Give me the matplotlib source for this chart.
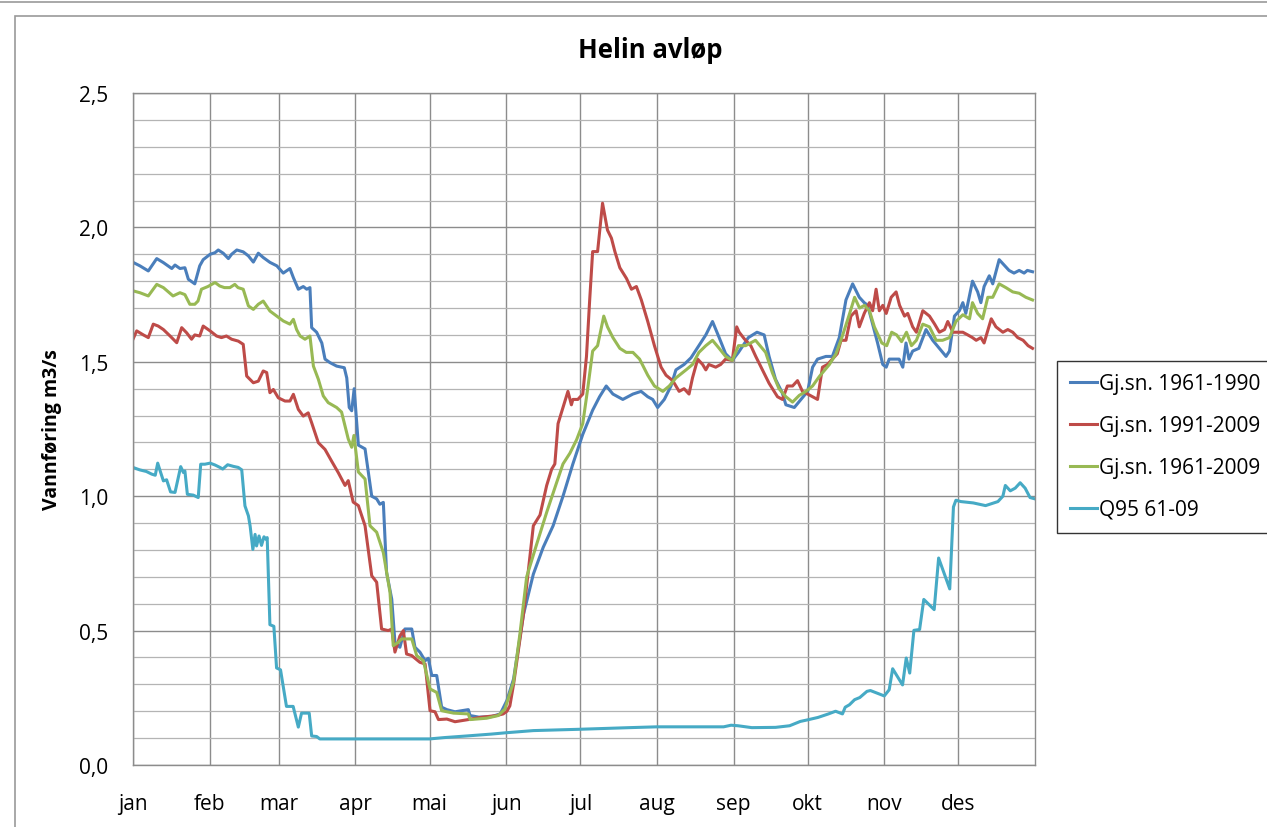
import matplotlib
matplotlib.use("Agg")
import matplotlib.pyplot as plt
from matplotlib.lines import Line2D
from matplotlib.patches import Rectangle

plt.rcParams["font.family"] = ["Open Sans", "DejaVu Sans"]

# month starts (day of year) and labels
month_days = [0, 31, 59, 90, 120, 151, 181, 212, 243, 273, 304, 334]
month_labels = ["jan", "feb", "mar", "apr", "mai", "jun", "jul", "aug", "sep", "okt", "nov", "des"]
y_ticks = [0.0, 0.5, 1.0, 1.5, 2.0, 2.5]
y_labels = ["0,0", "0,5", "1,0", "1,5", "2,0", "2,5"]

# Gj.sn. 1961-1990
days_6190 = [0, 2.8, 6.2, 9.6, 12.3, 15.7, 17, 19, 21, 22.4, 25, 27, 28.4, 31.2, 33.2, 34.5, 36.5,
             38.6, 39.9, 42, 44.6, 46.7, 48.7, 50.7, 52.7, 55.4, 58.2, 60.8, 63.5, 64.9, 66.9, 68.9,
             70.3, 71.6, 72.3, 74.3, 76.4, 77.7, 79.7, 82.4, 85.5, 86.5, 87.5, 88.5, 89.5, 91.2, 93.9,
             96.6, 98.6, 99.9, 101.3, 102.6, 104.7, 106, 108, 110, 112.8, 114.1, 116.1, 118.2, 119.5,
             120.9, 122.9, 124.9, 127, 130.3, 135.7, 136.4, 140, 145, 148.6, 151.3, 154, 158, 162,
             166, 170, 174, 178, 182, 186, 188.8, 191.5, 194.2, 198.2, 202.3, 205.6, 208.3, 210.3,
             212.3, 215, 217.7, 219.7, 223, 225.8, 229, 231.8, 234.5, 237.2, 239.8, 242.5, 245, 249,
             252.5, 255.4, 257.4, 260, 262.7, 264.2, 267.6, 270.3, 273, 275, 277, 280.4, 283, 285.8,
             288.5, 291.2, 293.9, 295.9, 297.3, 299.3, 301.3, 303.4, 304.8, 306, 308, 310, 311.5,
             312.8, 314, 315.5, 318, 320.9, 323.6, 326.3, 329, 330.4, 332.4, 334.4, 335.8, 337,
             339.7, 341.8, 343.1, 344.4, 346.5, 347.9, 350.5, 352.5, 354.5, 356.5, 358.6, 360.6,
             361.9, 364]
q_6190 = [1.87, 1.857, 1.838, 1.884, 1.869, 1.847, 1.86, 1.847, 1.85, 1.807, 1.79, 1.857, 1.88, 1.90,
          1.906, 1.916, 1.904, 1.884, 1.90, 1.916, 1.909, 1.894, 1.871, 1.904, 1.888, 1.87, 1.857,
          1.83, 1.847, 1.813, 1.77, 1.78, 1.77, 1.776, 1.627, 1.61, 1.57, 1.51, 1.497, 1.484, 1.478,
          1.44, 1.33, 1.318, 1.40, 1.19, 1.176, 1.00, 0.99, 0.97, 0.977, 0.717, 0.617, 0.456, 0.438,
          0.506, 0.506, 0.438, 0.42, 0.388, 0.397, 0.333, 0.333, 0.215, 0.206, 0.198, 0.206, 0.184,
          0.178, 0.18, 0.19, 0.24, 0.32, 0.56, 0.71, 0.81, 0.89, 1.00, 1.12, 1.23, 1.32, 1.37, 1.41,
          1.38, 1.36, 1.38, 1.39, 1.37, 1.36, 1.33, 1.36, 1.41, 1.47, 1.49, 1.515, 1.56, 1.60, 1.65,
          1.59, 1.53, 1.505, 1.535, 1.59, 1.61, 1.60, 1.52, 1.435, 1.385, 1.34, 1.33, 1.36, 1.39,
          1.48, 1.51, 1.52, 1.52, 1.59, 1.73, 1.79, 1.74, 1.72, 1.71, 1.64, 1.57, 1.49, 1.48, 1.51,
          1.51, 1.51, 1.48, 1.57, 1.51, 1.54, 1.55, 1.62, 1.58, 1.55, 1.52, 1.54, 1.67, 1.69, 1.72,
          1.68, 1.80, 1.76, 1.72, 1.78, 1.82, 1.79, 1.88, 1.86, 1.84, 1.83, 1.84, 1.83, 1.84, 1.835]

# Gj.sn. 1991-2009
days_9109 = [0, 1.5, 4.2, 6.2, 8.2, 10.2, 12.3, 15, 17.7, 19.7, 21.7, 23.7, 25, 27, 28.4, 31.2, 33.8,
             35.8, 37.8, 39.9, 42.6, 44.6, 46, 48.7, 50.7, 52.7, 54.1, 55.4, 56.8, 58.8, 61.5, 63.5,
             64.9, 66.9, 68.9, 70.9, 72.3, 75, 77.7, 80.4, 83.1, 85.8, 87.1, 89.1, 91.2, 93.9, 96.6,
             98.6, 100.6, 103.3, 104.7, 106, 108, 109.4, 110.7, 112.8, 116.1, 118.2, 120.2, 122.2,
             123.6, 127, 130.3, 135.7, 140.4, 147.1, 149.8, 151.3, 152.5, 154, 158, 162, 164.7, 167.4,
             169.4, 170.7, 172, 174, 176, 177.4, 178, 180, 182, 183.5, 184.8, 186, 188, 190, 192,
             193.6, 195, 197, 199.7, 201.7, 203.7, 205.7, 208.3, 211, 213.7, 215.7, 218.4, 221, 223,
             225, 226.4, 228.5, 230.5, 231.8, 233, 235.8, 237.8, 239.8, 242.5, 244.3, 245.3, 247.4,
             250, 252, 254.7, 257.4, 260.8, 262.8, 264.8, 266.9, 268.9, 270.9, 273, 275, 277, 279,
             281, 283, 285, 286.5, 288.5, 290.5, 292.6, 293.9, 295.9, 298, 299.3, 300.7, 302, 303.4,
             304.8, 306.8, 308.8, 310.2, 312.2, 313.5, 315.5, 317, 319.6, 322.3, 324.4, 326.3, 328.4,
             329.7, 331.8, 333.8, 335.8, 337.8, 339.7, 341.2, 343.1, 344.4, 347.3, 349.2, 352, 354,
             356, 358, 360.2, 362.2, 364]
q_9109 = [1.584, 1.615, 1.60, 1.59, 1.64, 1.633, 1.62, 1.596, 1.571, 1.627, 1.608, 1.584, 1.60, 1.596,
          1.633, 1.615, 1.596, 1.59, 1.596, 1.584, 1.577, 1.565, 1.447, 1.422, 1.428, 1.466, 1.46,
          1.385, 1.397, 1.366, 1.354, 1.354, 1.379, 1.323, 1.298, 1.31, 1.273, 1.199, 1.174, 1.13,
          1.087, 1.04, 1.058, 0.978, 0.965, 0.89, 0.704, 0.68, 0.506, 0.50, 0.506, 0.42, 0.48, 0.50,
          0.413, 0.407, 0.382, 0.376, 0.202, 0.198, 0.169, 0.171, 0.161, 0.169, 0.177, 0.184, 0.19,
          0.20, 0.22, 0.30, 0.56, 0.89, 0.93, 1.04, 1.10, 1.12, 1.27, 1.33, 1.39, 1.34, 1.36, 1.36,
          1.38, 1.52, 1.73, 1.91, 1.91, 2.09, 1.99, 1.96, 1.91, 1.85, 1.81, 1.77, 1.78, 1.73, 1.65,
          1.56, 1.48, 1.45, 1.43, 1.39, 1.40, 1.38, 1.44, 1.51, 1.49, 1.47, 1.49, 1.48, 1.49, 1.51,
          1.505, 1.63, 1.61, 1.585, 1.56, 1.52, 1.47, 1.42, 1.37, 1.36, 1.41, 1.41, 1.43, 1.39, 1.38,
          1.37, 1.36, 1.48, 1.49, 1.51, 1.53, 1.58, 1.58, 1.67, 1.69, 1.63, 1.68, 1.72, 1.69, 1.77,
          1.69, 1.71, 1.68, 1.74, 1.76, 1.71, 1.67, 1.68, 1.63, 1.61, 1.69, 1.67, 1.64, 1.61, 1.62,
          1.65, 1.61, 1.61, 1.61, 1.60, 1.59, 1.58, 1.59, 1.57, 1.66, 1.63, 1.61, 1.62, 1.61, 1.59,
          1.58, 1.56, 1.55]

# Gj.sn. 1961-2009
days_6109 = [0, 2.8, 6.2, 9.6, 12.3, 16.2, 19, 21, 23, 25, 26.3, 27.7, 30.3, 33.2, 35.1, 37, 39.2,
             41.2, 42.5, 44.6, 46.7, 48.7, 50.7, 52.7, 55.4, 58.2, 60.8, 63.5, 64.9, 66.2, 67.6, 69.6,
             71.6, 73, 75, 77, 79, 82.4, 84.4, 87.1, 88.5, 89.4, 91.2, 93.9, 95.9, 98.6, 101.3, 104,
             105.3, 107.3, 108.7, 112.8, 114.8, 117.5, 120.2, 122.9, 124.9, 129.7, 135.7, 136.4,
             143.1, 147.8, 150.5, 154, 156.6, 159.3, 163.3, 167.4, 171.4, 174, 176.8, 179.5, 182, 184,
             186, 188, 190.5, 192, 194.2, 197, 199.6, 202.3, 205, 208.3, 211, 214.4, 217, 219.7,
             223.8, 226.4, 229, 231.8, 234.5, 237.2, 239.8, 242.5, 245, 247.9, 251.9, 256, 258.7,
             261.4, 264.2, 266.9, 269.6, 272.3, 275, 277.7, 281.8, 284.5, 287.2, 290, 292, 294, 296,
             298, 300, 303, 305, 307, 309, 311, 313, 315, 317, 319.6, 322.3, 325, 327.6, 330.4, 333,
             335.8, 338.5, 339.7, 341.8, 343.8, 345.9, 347.9, 350.5, 353.4, 356, 358.6, 361.3, 364]
q_6109 = [1.764, 1.757, 1.745, 1.788, 1.776, 1.745, 1.757, 1.75, 1.714, 1.714, 1.726, 1.77, 1.78,
          1.795, 1.782, 1.776, 1.776, 1.788, 1.776, 1.77, 1.708, 1.695, 1.714, 1.726, 1.689, 1.67,
          1.652, 1.64, 1.658, 1.62, 1.596, 1.584, 1.596, 1.484, 1.435, 1.373, 1.348, 1.33, 1.313,
          1.213, 1.182, 1.226, 1.09, 1.064, 0.89, 0.866, 0.79, 0.642, 0.444, 0.456, 0.469, 0.469,
          0.407, 0.388, 0.283, 0.27, 0.202, 0.193, 0.19, 0.169, 0.174, 0.184, 0.208, 0.31, 0.49,
          0.70, 0.82, 0.94, 1.05, 1.12, 1.16, 1.21, 1.27, 1.40, 1.54, 1.56, 1.67, 1.63, 1.59, 1.55,
          1.535, 1.535, 1.51, 1.45, 1.41, 1.39, 1.41, 1.44, 1.47, 1.49, 1.535, 1.56, 1.58, 1.55,
          1.52, 1.505, 1.56, 1.56, 1.58, 1.535, 1.46, 1.40, 1.37, 1.35, 1.375, 1.39, 1.41, 1.445,
          1.49, 1.53, 1.60, 1.68, 1.74, 1.70, 1.71, 1.69, 1.63, 1.57, 1.56, 1.61, 1.60, 1.575, 1.61,
          1.56, 1.58, 1.64, 1.63, 1.58, 1.58, 1.59, 1.65, 1.675, 1.66, 1.72, 1.68, 1.66, 1.74, 1.74,
          1.79, 1.775, 1.76, 1.755, 1.74, 1.73]

# Q95 61-09
days_q95 = [0, 2.7, 5.4, 7.6, 9, 10, 11.2, 12.3, 13.6, 15.2, 17, 19.3, 20.4, 21, 22, 24.4, 26.4, 27.4,
            29.1, 31.2, 33.2, 35.2, 36.3, 38.3, 40.6, 42.6, 44, 45.3, 46.7, 47.4, 48.5, 49.4, 50, 51,
            52, 53, 53.8, 54.3, 55.4, 57, 58.1, 59.7, 62.1, 64.8, 66.9, 68.2, 71.3, 72.3, 74.3, 75.6,
            120, 126, 135, 145, 151, 162, 181, 201, 212, 239, 242, 244.8, 250.4, 260, 265.7, 270,
            273, 277.2, 281.4, 284.3, 287.1, 288.2, 289.9, 292, 294.1, 297, 298.4, 301.2, 304, 306,
            307.4, 311.4, 312.9, 314.3, 316, 318.3, 320, 324.2, 326, 330.5, 332, 333, 335, 340, 345,
            350, 352, 353, 355, 357, 359, 361, 363, 365]
q_q95 = [1.107, 1.098, 1.092, 1.082, 1.078, 1.123, 1.088, 1.057, 1.061, 1.016, 1.014, 1.11, 1.088,
         1.094, 1.007, 1.004, 0.995, 1.119, 1.119, 1.123, 1.116, 1.107, 1.101, 1.117, 1.111, 1.107,
         1.098, 0.964, 0.927, 0.889, 0.802, 0.858, 0.815, 0.852, 0.817, 0.849, 0.84, 0.846, 0.522,
         0.516, 0.361, 0.354, 0.218, 0.218, 0.141, 0.193, 0.193, 0.108, 0.106, 0.097, 0.097, 0.102,
         0.108, 0.115, 0.12, 0.128, 0.133, 0.139, 0.142, 0.142, 0.148, 0.146, 0.139, 0.14, 0.146,
         0.162, 0.168, 0.177, 0.19, 0.20, 0.19, 0.215, 0.224, 0.243, 0.251, 0.274, 0.277, 0.267,
         0.257, 0.28, 0.358, 0.298, 0.398, 0.342, 0.501, 0.504, 0.616, 0.578, 0.77, 0.655, 0.96,
         0.985, 0.98, 0.975, 0.965, 0.98, 1.00, 1.04, 1.02, 1.03, 1.05, 1.03, 0.995, 0.99]

series = [
    ("Gj.sn. 1961-1990", days_6190, q_6190, "#4A7EBB"),
    ("Gj.sn. 1991-2009", days_9109, q_9109, "#BE4B48"),
    ("Gj.sn. 1961-2009", days_6109, q_6109, "#98B954"),
    ("Q95 61-09", days_q95, q_q95, "#46AAC5"),
]

fig = plt.figure(figsize=(12.67, 8.28), dpi=100)
ax = fig.add_axes([133 / 1267, 62 / 828, 902 / 1267, 672 / 828])

for name, d, q, c in series:
    ax.plot(d, q, color=c, lw=2.2, label=name, solid_joinstyle="round")

ax.set_xlim(0, 365)
ax.set_ylim(0, 2.5)
ax.set_yticks(y_ticks)
ax.set_yticklabels(y_labels, fontsize=15)
ax.set_yticks([i / 10 for i in range(26)], minor=True)
ax.set_xticks(month_days)
ax.set_xticklabels(month_labels, fontsize=15)
ax.tick_params(axis="both", which="both", length=0)
ax.tick_params(axis="y", pad=18)
ax.tick_params(axis="x", pad=20)
ax.grid(True, which="minor", axis="y", color="#b4b4b4", lw=0.9)
ax.grid(True, which="major", axis="y", color="#8c8c8c", lw=1.0)
ax.grid(True, which="major", axis="x", color="#8c8c8c", lw=1.0)
ax.set_axisbelow(True)
for s in ax.spines.values():
    s.set_color("#8c8c8c")
    s.set_linewidth(1.0)

ax.set_ylabel("Vannføring m3/s", fontsize=14, fontweight="bold", labelpad=12)
fig.text(650 / 1267, 1 - 50 / 828, "Helin avløp", fontsize=18.5, fontweight="bold",
         ha="center", va="center")

leg = ax.legend(loc="upper left", bbox_to_anchor=(1057 / 1267, 1 - 362 / 828),
                bbox_transform=fig.transFigure, fontsize=15, frameon=True, fancybox=False,
                handlelength=1.3, handletextpad=0.1, borderpad=0.6, labelspacing=1.0,
                borderaxespad=0)
leg.get_frame().set_edgecolor("black")
leg.get_frame().set_linewidth(1.0)

# outer frame lines like the spreadsheet chart area
fig.add_artist(Line2D([0, 1], [1 - 3 / 828, 1 - 3 / 828], color="#9a9a9a", lw=1.2,
                      transform=fig.transFigure))
fig.add_artist(Rectangle((15 / 1267, -0.05), 1.1, 1 - 17 / 828 + 0.05, fill=False,
                         edgecolor="#9a9a9a", lw=1.2, transform=fig.transFigure))

fig.savefig("out.png", dpi=100)
